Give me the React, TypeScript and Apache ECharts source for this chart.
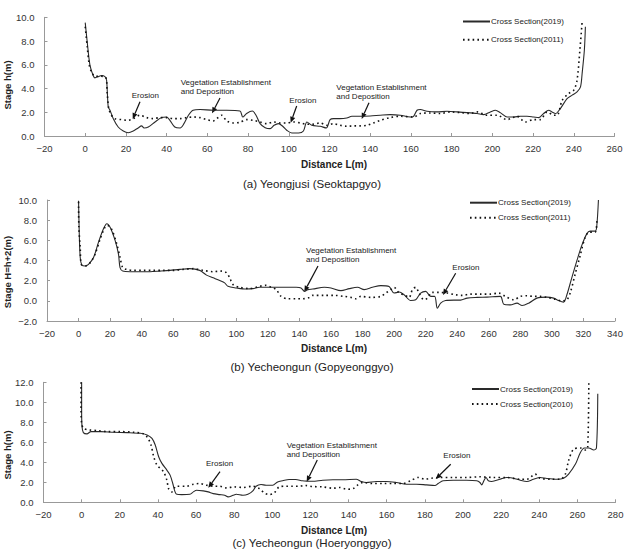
import React, { useEffect, useRef } from "react";
import * as echarts from "echarts";

type Pt = [number, number];

// ---------- data (distance m, stage m) ----------
const sectionA2019: Pt[] = [[0,9.55],[1,7.9],[2.3,6.0],[3.9,5.1],[4.8,4.9],[6.4,5.0],[8,5.1],[9.7,5.0],[10.5,4.7],[11.3,2.45],[12.1,2.2],[13.8,1.46],[16.2,0.76],[18.7,0.42],[21.1,0.28],[23.6,0.42],[26,0.68],[27.7,0.85],[28.9,0.68],[31,0.76],[34.3,1.18],[37.5,1.55],[40,1.6],[41.6,1.32],[44,0.76],[46.6,0.68],[48.5,1.04],[50.7,1.75],[53,2.17],[56.4,2.23],[62.9,2.17],[69.5,2.17],[76,2.1],[77.4,1.6],[79.3,1.9],[82.1,2.1],[83.9,1.75],[85.9,1.04],[88.4,0.7],[90.8,0.62],[92.8,0.9],[94.9,1.04],[97,0.82],[99,0.48],[101.5,0.25],[104.8,0.25],[107.2,0.42],[108.9,1.18],[111.3,0.9],[115.4,0.82],[118.4,0.68],[120.3,1.38],[122,1.46],[125.2,1.46],[128.5,1.52],[131,1.66],[135.1,1.66],[140,1.69],[144.9,1.75],[149.8,1.8],[154.8,1.75],[159.7,1.6],[161.3,1.66],[163,2.17],[164.6,2.23],[167.9,2.08],[172.8,2.03],[177.7,2.08],[182.6,2.03],[187.5,1.97],[192.5,1.89],[195.7,1.8],[199,2.03],[201.5,2.17],[203.9,1.97],[207.2,1.6],[210.5,1.6],[213.8,1.66],[217,1.66],[220.3,1.6],[222.8,1.55],[225.2,1.89],[227.7,2.17],[229.3,2.03],[231,1.89],[233.4,2.31],[236.7,3.15],[239.2,3.44],[241.6,3.72],[243.3,4.14],[244.1,5.27],[245.2,7.24],[245.7,9.2]];
const sectionA2011: Pt[] = [[0,9.2],[1,7.5],[2,5.97],[3.1,5.4],[4.8,5.04],[7.2,5.04],[10.2,4.9],[10.8,3.58],[11.6,2.3],[12.9,1.75],[14.6,1.46],[17.9,1.38],[21.1,1.32],[23.6,1.46],[26.9,1.75],[30.2,1.55],[33.4,1.46],[36.7,1.55],[40,1.55],[43.3,1.46],[46.6,1.46],[49.8,1.55],[53.1,1.6],[56.4,1.55],[59.7,1.38],[62.9,1.27],[64.6,1.46],[67,1.75],[69.5,1.27],[72.8,1.1],[76,1.15],[79.3,1.38],[82.6,1.32],[85.9,1.18],[89.2,1.04],[92.5,1.18],[95.7,1.1],[99,1.1],[102.3,1.18],[105.6,1.1],[108.9,0.99],[112.1,1.0],[115.4,1.1],[118.7,0.9],[122,1.04],[125.2,0.9],[128.5,0.82],[131.8,0.85],[135.1,0.85],[138.4,0.9],[141.6,1.1],[144.9,1.32],[149.8,1.55],[154.8,1.66],[161.3,1.6],[164.6,1.89],[169.5,1.94],[174.4,1.89],[179.3,2.03],[184.3,1.97],[189.2,1.89],[192.5,2.03],[197.4,1.75],[202.3,1.75],[207.2,1.38],[212.1,1.66],[216.2,1.18],[220.3,1.38],[223.6,1.38],[226.9,2.03],[230.2,1.75],[231.8,1.75],[234.3,3.0],[237.5,3.58],[240,3.86],[241.6,4.7],[243,7.24],[244.1,9.63]];
const sectionB2019: Pt[] = [[0,9.93],[0.4,6.98],[1.05,4.3],[2.1,3.56],[4.2,3.46],[6.3,3.62],[9.5,4.3],[12.6,5.8],[15.8,7.15],[17.9,7.65],[20,7.3],[23.2,5.97],[25.3,4.63],[26.3,3.29],[28,2.95],[32.6,2.89],[38.9,2.89],[45.3,2.89],[51.6,2.95],[57.9,3.02],[64.2,3.12],[70.5,3.19],[76.8,3.02],[81.1,2.55],[85.3,2.28],[89.5,2.01],[92.6,1.78],[94.7,1.44],[100,1.28],[106.3,1.17],[110.5,1.21],[114.7,1.34],[118.9,1.34],[125.3,1.34],[131.6,1.34],[137.9,1.34],[141,1.28],[143.2,0.94],[145.3,1.11],[148.4,1.17],[155.8,1.34],[160,1.28],[166.3,1.01],[171.6,1.21],[176.8,1.34],[181.1,1.11],[186.3,1.34],[191.6,1.51],[196.8,1.41],[200,0.77],[203.2,0.87],[206.3,0.6],[210.5,0.03],[213.7,0.1],[216.8,0.77],[220,0.94],[223.2,0.44],[225.7,0.44],[227.4,-0.74],[229.5,-0.23],[232.6,0.03],[237.9,0.07],[242.1,0.07],[246.3,0.27],[252.6,0.34],[258.9,0.37],[267.4,0.44],[269.5,-0.34],[273.7,-0.4],[277.9,-0.23],[281.1,-0.47],[285.3,-0.23],[290.5,0.27],[296.8,0.37],[301.1,0.27],[304.2,0.03],[307.4,-0.13],[309.5,0.6],[312.6,2.28],[315.8,3.96],[318.9,5.47],[322.1,6.64],[324.2,6.91],[327.4,6.91],[328.4,7.32],[329.5,10.0]];
const sectionB2011: Pt[] = [[0,9.83],[0.2,7.3],[1.05,5.3],[1.7,3.62],[4.2,3.46],[7.4,3.79],[10.5,4.63],[13.7,6.14],[16.8,7.32],[18.3,7.48],[21.1,7.05],[24.2,5.64],[26.3,4.3],[28,3.29],[30.5,3.12],[34.7,3.02],[41.1,3.02],[47.4,3.02],[53.7,3.02],[60,3.02],[66.3,3.12],[72.6,3.19],[78.9,3.02],[85.3,2.89],[90.5,2.95],[93.7,2.79],[95.8,2.28],[97.9,1.61],[102.1,1.34],[108.4,1.21],[114.7,1.44],[118.9,1.54],[122.1,1.34],[125.3,1.11],[128.4,0.44],[132.6,0.2],[137.9,0.2],[142.1,0.2],[146.3,0.34],[148.4,0.54],[155.8,0.54],[162.1,0.54],[168.4,0.44],[172.6,0.34],[175.8,0.2],[178.9,0.44],[185.3,0.34],[191.6,0.44],[194.7,0.77],[197.9,1.11],[200,1.34],[203.2,0.77],[206.3,0.6],[209.5,0.34],[211.6,1.11],[213.7,1.34],[215.8,0.77],[218.9,0.1],[221.1,0.27],[224.2,0.84],[228.4,0.84],[233.7,0.77],[238.9,0.6],[243.2,0.54],[248.4,0.67],[254.7,0.67],[261.1,0.67],[266.3,0.77],[270.5,0.44],[275.8,0.1],[280,0.44],[284.2,0.5],[288.4,0.44],[292.6,0.44],[296.8,0.34],[301.1,0.2],[306.3,0.0],[309.5,0.1],[311.6,0.77],[314.7,2.62],[317.9,4.46],[321.1,6.31],[323.8,6.81],[327.4,6.81],[328.6,8.2]];
const sectionC2019: Pt[] = [[0,12],[0,9.25],[0.2,7.58],[0.9,6.97],[2.8,6.84],[4.9,7.07],[10,7.07],[17,7.0],[23.9,6.97],[30.8,6.9],[34.3,6.74],[36.9,6.4],[38.6,5.73],[40.4,4.56],[42.1,3.89],[44.7,3.22],[46.4,2.72],[47.8,1.88],[49,1.04],[49.9,0.8],[52.5,0.77],[56.8,0.8],[58.6,1.04],[60.3,1.21],[63.8,1.14],[66.4,1.04],[69,0.87],[72.4,0.77],[75,0.7],[76.8,0.54],[79.4,0.7],[81.1,0.8],[84.6,0.7],[87.2,0.8],[89.8,1.14],[91.5,1.61],[94.1,1.78],[96.7,1.71],[100.2,1.71],[102.8,2.04],[105.4,2.15],[108.8,2.28],[112.3,2.28],[115.8,2.15],[119.2,2.11],[121,2.1],[126.5,2.21],[131.8,2.25],[137,2.25],[144,2.31],[146.7,2.08],[149.3,1.98],[154.6,2.08],[159.8,2.08],[165.1,1.98],[170.4,1.81],[175.6,1.81],[180.9,1.74],[185.3,1.68],[187,1.88],[189.6,2.15],[194.9,2.21],[201.9,2.21],[207.2,2.15],[208.9,1.98],[209.8,1.74],[211.1,2.21],[212.1,2.48],[213.3,2.15],[215.1,2.08],[219.5,2.31],[223,2.48],[226.5,2.41],[230,2.21],[233.5,2.08],[237,2.31],[240.5,2.48],[244,2.38],[249.3,2.31],[252.8,2.41],[255.4,2.82],[259,3.82],[261.6,4.99],[263.7,5.43],[266,5.43],[268.6,5.23],[270,5.43],[270.7,10.86]];
const sectionC2010: Pt[] = [[-0.3,12],[-0.3,9.25],[0,7.9],[1,7.4],[4,7.24],[8.3,7.17],[13.5,7.07],[20.5,7.07],[27.4,7.0],[32.6,6.84],[34.8,6.4],[36.4,5.73],[37.8,4.56],[39.5,3.72],[41.2,3.39],[43,3.05],[44.7,2.21],[45.6,1.37],[47.3,1.04],[49.6,1.61],[55.1,1.61],[58.6,1.81],[62,1.88],[65.5,1.71],[69.8,1.61],[72.4,1.61],[75.9,1.44],[80.2,1.54],[84.6,1.48],[89.8,1.61],[93.2,1.37],[95.8,0.94],[98.4,0.77],[101,0.94],[103.6,1.54],[107.1,1.61],[110.6,1.61],[114,1.61],[117.5,1.68],[121,1.58],[126.5,1.54],[131.8,1.41],[135.3,1.48],[138.8,1.31],[142.3,1.37],[144.9,1.74],[147.5,1.98],[152.8,1.88],[158.1,1.88],[163.3,1.88],[168.6,1.88],[173,2.21],[176.5,2.48],[180,2.31],[183.5,2.41],[187.9,2.48],[194.9,2.48],[201.9,2.48],[208.9,2.55],[215.9,2.48],[223,2.48],[230,2.31],[233.5,2.31],[237.9,2.82],[240.5,2.41],[245.8,2.31],[251.1,2.31],[253.7,2.82],[255.4,4.16],[258.1,5.33],[261.6,5.43],[264.2,5.23],[265.4,5.43],[266,12]];

const seriesNamesA = ["Cross Section(2019)", "Cross Section(2011)"];
const seriesNamesB = ["Cross Section(2019)", "Cross Section(2011)"];
const seriesNamesC = ["Cross Section(2019)", "Cross Section(2010)"];

const xRanges = [[-20, 260], [-20, 340], [-20, 280]];
const yRanges = [[0, 10], [-2, 10], [0, 12]];

const panelTitles = ["(a) Yeongjusi (Seoktapgyo)", "(b) Yecheongun (Gopyeonggyo)", "(c) Yecheongun (Hoeryonggyo)"];
const yNames = ["Stage h(m)", "Stage H=h+2(m)", "Stage h(m)"];
const xName = "Distance L(m)";
const EROSION = "Erosion";
const VEG = "Vegetation Establishment\nand Deposition";

// ---------- layout / style ----------
const FONT = "'Liberation Sans', Arial, sans-serif";
const INK = "#222";
const grids = [
  { left: 44.5, top: 17.3, width: 570, height: 118.7 },
  { left: 47, top: 200, width: 568, height: 121 },
  { left: 43.5, top: 382.3, width: 572, height: 120 },
];

function minusFmt(s: string) {
  return s.replace("-", "\u2212");
}

function arrow(x1: number, y1: number, x2: number, y2: number) {
  const dx = x2 - x1, dy = y2 - y1;
  const len = Math.hypot(dx, dy);
  const ux = dx / len, uy = dy / len;
  const hl = 6, hw = 2.6;
  const bx = x2 - ux * hl, by = y2 - uy * hl;
  return {
    type: "group",
    children: [
      { type: "line", shape: { x1, y1, x2: bx, y2: by }, style: { stroke: "#111", lineWidth: 1.2 } },
      {
        type: "polygon",
        shape: { points: [[x2, y2], [bx - uy * hw, by + ux * hw], [bx + uy * hw, by - ux * hw]] },
        style: { fill: "#111" },
      },
    ],
  };
}

function note(text: string, x: number, yFirstCenter: number) {
  return {
    type: "text",
    x,
    y: yFirstCenter - 4.5,
    style: { text, font: `8px ${FONT}`, fill: INK, lineHeight: 9, verticalAlign: "top", align: "left" },
  };
}

function centered(text: string, x: number, y: number, font: string, rotation = 0) {
  return {
    type: "text",
    x,
    y,
    rotation,
    style: { text, font, fill: INK, align: "center", verticalAlign: "middle" },
  };
}

export default function App() {
  const ref = useRef<HTMLDivElement>(null);
  useEffect(() => {
    if (!ref.current) return;
    const chart = echarts.init(ref.current, undefined, { renderer: "svg" });
    const axisLine = { lineStyle: { color: "#999", width: 1 } };
    const axisTick = { inside: true, length: 3, lineStyle: { color: "#999" } };
    const labelStyle = { color: "#333", fontSize: 9.5, fontFamily: FONT };

    const xAxis = xRanges.map((r, i) => ({
      type: "value",
      gridIndex: i,
      min: r[0],
      max: r[1],
      interval: 20,
      splitLine: { show: false },
      axisLine: { ...axisLine, onZero: false },
      axisTick,
      axisLabel: { ...labelStyle, margin: 7, formatter: (v: number) => minusFmt(String(v)) },
    }));
    const yAxis = yRanges.map((r, i) => ({
      type: "value",
      gridIndex: i,
      min: r[0],
      max: r[1],
      interval: 2,
      splitLine: { show: false },
      axisLine: { show: true, ...axisLine, onZero: false },
      axisTick: { show: true, ...axisTick },
      axisLabel: { ...labelStyle, margin: 10, formatter: (v: number) => minusFmt(v.toFixed(1)) },
    }));

    const solid = { color: "#2a2a2a", width: 1.1, type: "solid" };
    const dotted = { color: "#111", width: 1.6, type: [1.6, 3.2] };
    const mk = (name: string, data: Pt[], idx: number, ls: any) => ({
      type: "line",
      name,
      data,
      xAxisIndex: idx,
      yAxisIndex: idx,
      showSymbol: false,
      symbol: "none",
      smooth: 0.3,
      lineStyle: ls,
      itemStyle: { color: ls.color },
      silent: true,
    });

    const series = [
      mk(seriesNamesA[0], sectionA2019, 0, solid),
      mk(seriesNamesA[1], sectionA2011, 0, dotted),
      mk(seriesNamesB[0], sectionB2019, 1, solid),
      mk(seriesNamesB[1], sectionB2011, 1, dotted),
      mk(seriesNamesC[0], sectionC2019, 2, solid),
      mk(seriesNamesC[1], sectionC2010, 2, dotted),
    ];

    const legendBase = {
      orient: "vertical",
      itemWidth: 27,
      itemHeight: 8,
      itemGap: 5,
      padding: 0,
      itemStyle: { opacity: 0 },
      textStyle: { fontSize: 8, fontFamily: FONT, color: INK, lineHeight: 10, padding: [0, 0, 0, -4] },
      selectedMode: false,
    };
    const legend = [
      { ...legendBase, data: seriesNamesA, left: 462, top: 16.5, itemGap: 8.3 },
      { ...legendBase, data: seriesNamesB, left: 469, top: 197.7 },
      { ...legendBase, data: seriesNamesC, left: 471, top: 384 },
    ];

    const titleFont = `11.5px ${FONT}`;
    const nameFont = `bold 10px ${FONT}`;
    const yNameFont = `bold 9.5px ${FONT}`;

    const graphic = [
      centered(panelTitles[0], 312, 184, titleFont),
      centered(panelTitles[1], 312, 366.5, titleFont),
      centered(panelTitles[2], 312, 543, titleFont),
      centered(xName, 334, 164.5, nameFont),
      centered(xName, 334, 348.3, nameFont),
      centered(xName, 334, 530.7, nameFont),
      centered(yNames[0], 7.5, 85, yNameFont, Math.PI / 2),
      centered(yNames[1], 7.5, 272, yNameFont, Math.PI / 2),
      centered(yNames[2], 7.5, 455, yNameFont, Math.PI / 2),
      // panel (a)
      note(EROSION, 131.7, 95),
      arrow(140, 101.7, 132.7, 119),
      note(VEG, 180.7, 82.7),
      arrow(220, 98, 212, 113.3),
      note(EROSION, 289.3, 100),
      arrow(296.7, 106, 290.7, 122.7),
      note(VEG, 336.3, 87.3),
      arrow(369, 102.7, 361.7, 119),
      // panel (b)
      note(VEG, 306, 250),
      arrow(318, 266, 304.3, 291.7),
      note(EROSION, 452.3, 267.3),
      arrow(455.7, 273.3, 443, 295),
      // panel (c)
      note(EROSION, 206, 463.3),
      arrow(220, 471.7, 208.3, 487.7),
      note(VEG, 286.7, 445),
      arrow(317.3, 460, 306.7, 481.7),
      note(EROSION, 443.3, 455.7),
      arrow(450.7, 464.3, 435.7, 479),
    ];

    chart.setOption({
      animation: false,
      backgroundColor: "#fff",
      textStyle: { fontFamily: FONT },
      grid: grids.map((g) => ({ ...g, containLabel: false })),
      xAxis,
      yAxis,
      legend,
      series,
      graphic,
    });
    return () => chart.dispose();
  }, []);

  return (
    <div
      ref={ref}
      style={{ position: "absolute", left: 0, top: 0, width: 628, height: 550, background: "#fff" }}
    />
  );
}
